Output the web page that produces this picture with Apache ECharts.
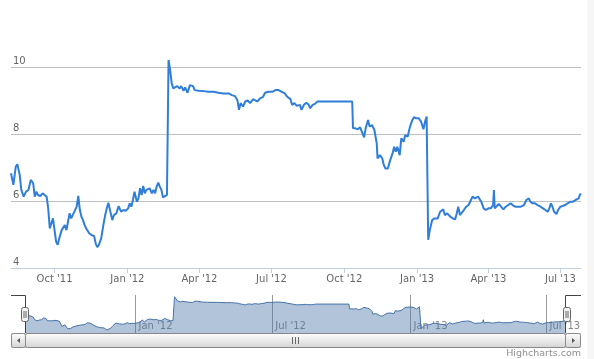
<!DOCTYPE html>
<html><head><meta charset="utf-8">
<script src="https://cdn.jsdelivr.net/npm/echarts@6/dist/echarts.min.js"></script>
<style>html,body{margin:0;padding:0;background:#fff}#c{width:594px;height:359px}</style>
</head><body><div id="c"></div>
<script>
const dates = [
'2011-08-07','2011-08-10','2011-08-13','2011-08-15','2011-08-18','2011-08-20','2011-08-23','2011-08-26','2011-08-29',
'2011-09-01','2011-09-04','2011-09-06','2011-09-08','2011-09-10','2011-09-13','2011-09-16','2011-09-18','2011-09-21','2011-09-23','2011-09-25','2011-09-27','2011-09-29',
'2011-10-01','2011-10-03','2011-10-05','2011-10-07','2011-10-10','2011-10-12','2011-10-14','2011-10-16','2011-10-18','2011-10-20','2011-10-22','2011-10-24','2011-10-26','2011-10-29','2011-10-31',
'2011-11-02','2011-11-04','2011-11-06','2011-11-08','2011-11-10','2011-11-12','2011-11-14','2011-11-17','2011-11-20','2011-11-22','2011-11-24','2011-11-26','2011-11-29',
'2011-12-02','2011-12-04','2011-12-06','2011-12-08','2011-12-11','2011-12-13','2011-12-15','2011-12-18','2011-12-21','2011-12-24','2011-12-27','2011-12-30',
'2012-01-02','2012-01-04','2012-01-06','2012-01-08','2012-01-10','2012-01-13','2012-01-15','2012-01-17','2012-01-19','2012-01-21','2012-01-23','2012-01-25','2012-01-27','2012-01-29',
'2012-02-01','2012-02-03','2012-02-05','2012-02-07','2012-02-09','2012-02-11','2012-02-13','2012-02-15','2012-02-17','2012-02-20','2012-02-22','2012-02-24','2012-02-26','2012-02-28',
'2012-03-01','2012-03-04','2012-03-07','2012-03-09','2012-03-12','2012-03-14','2012-03-17','2012-03-20','2012-03-24','2012-03-26','2012-03-31',
'2012-04-06','2012-04-12','2012-04-19','2012-04-25',
'2012-05-01','2012-05-08','2012-05-12','2012-05-16','2012-05-19','2012-05-21','2012-05-23','2012-05-26','2012-05-29',
'2012-06-01','2012-06-04','2012-06-08','2012-06-10','2012-06-13','2012-06-17','2012-06-20','2012-06-23','2012-06-27',
'2012-07-02','2012-07-06','2012-07-10','2012-07-14','2012-07-18','2012-07-21','2012-07-25','2012-07-27','2012-07-30',
'2012-08-02','2012-08-06','2012-08-08','2012-08-11','2012-08-14','2012-08-17','2012-08-19','2012-08-22','2012-08-25','2012-08-28',
'2012-10-11','2012-10-12','2012-10-15','2012-10-18','2012-10-21','2012-10-24','2012-10-26','2012-10-28','2012-10-31',
'2012-11-02','2012-11-05','2012-11-08','2012-11-11','2012-11-12','2012-11-15','2012-11-18','2012-11-20','2012-11-22','2012-11-25','2012-11-28',
'2012-12-01','2012-12-03','2012-12-05','2012-12-07','2012-12-10','2012-12-12','2012-12-15','2012-12-17','2012-12-20','2012-12-23','2012-12-26','2012-12-28','2012-12-31',
'2013-01-03','2013-01-06','2013-01-09','2013-01-11','2013-01-13','2013-01-15','2013-01-17','2013-01-20','2013-01-23','2013-01-27','2013-01-30',
'2013-02-01','2013-02-03','2013-02-05','2013-02-08','2013-02-12','2013-02-15','2013-02-18','2013-02-20','2013-02-22','2013-02-24','2013-02-26',
'2013-03-01','2013-03-04','2013-03-07','2013-03-10','2013-03-12','2013-03-15','2013-03-17','2013-03-19','2013-03-23','2013-03-26','2013-03-29',
'2013-04-01','2013-04-04','2013-04-07','2013-04-08','2013-04-09','2013-04-11','2013-04-14','2013-04-17','2013-04-20','2013-04-23','2013-04-26','2013-04-29',
'2013-05-02','2013-05-05','2013-05-08','2013-05-12','2013-05-16','2013-05-19','2013-05-22','2013-05-24','2013-05-27','2013-05-30',
'2013-06-02','2013-06-06','2013-06-09','2013-06-12','2013-06-15','2013-06-17','2013-06-19','2013-06-21','2013-06-23','2013-06-26','2013-06-28',
'2013-07-01','2013-07-04','2013-07-07','2013-07-10','2013-07-14','2013-07-17','2013-07-20','2013-07-22','2013-07-24','2013-07-26','2013-07-27'
];
const prices = [
6.83,6.48,7.02,7.10,6.78,6.33,6.13,6.28,6.33,
6.63,6.53,6.13,6.28,6.18,6.15,6.23,6.28,6.13,5.78,5.18,5.23,5.48,
5.43,4.79,4.69,4.89,5.13,5.18,5.28,5.13,5.38,5.63,5.48,5.58,5.53,5.83,6.15,
5.73,5.53,5.43,5.28,5.18,5.13,5.03,4.98,4.96,4.73,4.62,4.69,4.89,
5.33,5.58,5.78,5.95,5.63,5.43,5.58,5.63,5.85,5.68,5.73,5.71,
5.78,5.93,5.83,6.03,6.28,5.98,6.08,6.38,6.18,6.45,6.23,6.33,6.28,6.38,
6.23,6.33,6.23,6.43,6.55,6.43,6.33,6.11,6.15,6.18,10.21,9.91,9.51,9.36,
9.33,9.43,9.36,9.43,9.29,9.39,9.23,9.46,9.43,9.31,9.29,
9.28,9.26,9.26,9.23,
9.21,9.21,9.16,9.13,9.01,8.72,8.92,8.82,8.97,
9.00,8.92,9.04,9.04,8.97,9.07,9.10,9.23,9.26,
9.26,9.31,9.31,9.26,9.21,9.11,9.04,8.87,8.92,
8.84,8.87,8.72,8.87,8.93,8.87,8.77,8.87,8.90,8.97,
8.97,8.17,8.17,8.14,8.20,8.02,7.90,8.17,8.42,
8.22,8.27,8.12,7.72,7.27,7.37,7.27,7.07,6.97,6.97,7.22,
7.42,7.62,7.47,7.62,7.37,7.87,7.77,7.97,7.92,8.22,8.42,8.50,8.47,
8.47,8.37,8.14,8.37,8.52,4.84,5.13,5.43,5.48,5.48,5.68,
5.63,5.75,5.58,5.63,5.53,5.48,5.45,5.63,5.83,5.58,5.63,
5.73,5.83,5.88,6.03,6.13,6.08,6.03,6.13,5.98,5.78,5.73,
5.78,5.78,5.88,6.33,5.78,5.83,5.91,5.83,5.75,5.83,5.88,5.93,
5.87,5.83,5.83,5.83,5.88,6.03,6.08,5.98,5.93,5.93,
5.88,5.83,5.78,5.73,5.68,5.78,5.93,5.83,5.68,5.61,5.73,
5.83,5.85,5.88,5.93,5.98,5.98,6.03,5.98,6.08,6.21,6.18
];
const mainTickDates = ['2011-10-01','2012-01-01','2012-04-01','2012-07-01','2012-10-01','2013-01-01','2013-04-01','2013-07-01'];
const navTickDates = ['2012-01-01','2012-07-01','2013-01-01','2013-07-01'];
const monthNames = ['Jan','Feb','Mar','Apr','May','Jun','Jul','Aug','Sep','Oct','Nov','Dec'];

const ts = s => new Date(s + 'T00:00:00').getTime();
const seriesData = dates.map((d, i) => [ts(d), prices[i]]);
const xMin = ts(dates[0]), xMax = ts(dates[dates.length - 1]);
const fmt = v => { const d = new Date(v); return monthNames[d.getMonth()] + " '" + String(d.getFullYear()).slice(2); };
const FONT = '"DejaVu Sans", Verdana, Arial, sans-serif';

const chart = echarts.init(document.getElementById('c'), null, {renderer: 'canvas'});
const grad = (a, b) => new echarts.graphic.LinearGradient(0, 0, 0, 1, [{offset: 0, color: a}, {offset: 1, color: b}]);

chart.setOption({
  animation: false,
  backgroundColor: '#fff',
  grid: [
    {left: 11, right: 13, top: 67, height: 201},
    {left: 25, right: 28, top: 295, height: 38}
  ],
  xAxis: [
    {
      gridIndex: 0, type: 'value', min: xMin, max: xMax, scale: true,
      axisLine: {lineStyle: {color: '#C0D0E0'}},
      axisTick: {length: 5, lineStyle: {color: '#C0D0E0'}, customValues: mainTickDates.map(ts)},
      axisLabel: {customValues: mainTickDates.map(ts), formatter: fmt, color: '#666', fontSize: 10, fontFamily: FONT, margin: 6},
      splitLine: {show: false}
    },
    {
      gridIndex: 1, type: 'value', min: xMin, max: xMax, scale: true,
      axisLine: {show: false},
      axisTick: {inside: true, length: 38, lineStyle: {color: '#999'}, customValues: navTickDates.map(ts)},
      axisLabel: {inside: true, customValues: navTickDates.map(ts), formatter: fmt, color: '#888', fontSize: 10, fontFamily: FONT,
        align: 'left', verticalAlign: 'bottom', margin: 2, padding: [0, 0, 0, 3]},
      splitLine: {show: false}
    }
  ],
  yAxis: [
    {
      gridIndex: 0, type: 'value', min: 4, max: 10, interval: 2, position: 'left',
      axisLine: {show: false}, axisTick: {show: false},
      splitLine: {lineStyle: {color: '#C0C0C0', width: 1}},
      axisLabel: {inside: true, margin: 2, verticalAlign: 'bottom', color: '#666', fontSize: 10, fontFamily: FONT, padding: [0, 0, 1, 0]}
    },
    {gridIndex: 1, type: 'value', min: 4.1, max: 10.5, show: false, splitLine: {show: false}}
  ],
  series: [
    {
      type: 'line', xAxisIndex: 0, yAxisIndex: 0, data: seriesData, showSymbol: false, clip: false,
      lineStyle: {color: '#2f7ed8', width: 2}, itemStyle: {color: '#2f7ed8'}, z: 3
    },
    {
      type: 'line', xAxisIndex: 1, yAxisIndex: 1, data: seriesData, showSymbol: false, silent: true,
      lineStyle: {color: '#4572A7', width: 1}, areaStyle: {color: '#4572A7', opacity: 0.42, origin: 'start'}
    }
  ],
  graphic: [
    {type: 'rect', shape: {x: 587, y: 0, width: 7, height: 359}, style: {fill: '#f6f6f6'}, silent: true},
    {type: 'polyline', shape: {points: [[11, 295.5], [25.5, 295.5], [25.5, 333]]}, style: {stroke: '#444', lineWidth: 1, fill: null}, z: 10},
    {type: 'polyline', shape: {points: [[565.5, 333], [565.5, 295.5], [581, 295.5]]}, style: {stroke: '#444', lineWidth: 1, fill: null}, z: 10},
    {type: 'rect', shape: {x: 21.5, y: 307.5, width: 7, height: 14, r: 2}, style: {fill: '#f2f2f2', stroke: '#666', lineWidth: 1}, z: 11},
    {type: 'line', shape: {x1: 24, y1: 311, x2: 24, y2: 318}, style: {stroke: '#666', lineWidth: 1}, z: 12},
    {type: 'line', shape: {x1: 26, y1: 311, x2: 26, y2: 318}, style: {stroke: '#666', lineWidth: 1}, z: 12},
    {type: 'rect', shape: {x: 563.5, y: 307.5, width: 7, height: 14, r: 2}, style: {fill: '#f2f2f2', stroke: '#666', lineWidth: 1}, z: 11},
    {type: 'line', shape: {x1: 566, y1: 311, x2: 566, y2: 318}, style: {stroke: '#666', lineWidth: 1}, z: 12},
    {type: 'line', shape: {x1: 568, y1: 311, x2: 568, y2: 318}, style: {stroke: '#666', lineWidth: 1}, z: 12},
    {type: 'rect', shape: {x: 11.5, y: 333.5, width: 569, height: 14}, style: {fill: grad('#eeeeee', '#ffffff'), stroke: '#ccc', lineWidth: 1}, z: 10},
    {type: 'rect', shape: {x: 25.5, y: 333.5, width: 540, height: 14, r: 2}, style: {fill: grad('#ffffff', '#d4d4d4'), stroke: '#888', lineWidth: 1}, z: 11},
    {type: 'rect', shape: {x: 11.5, y: 333.5, width: 14, height: 14, r: 2}, style: {fill: grad('#ffffff', '#d4d4d4'), stroke: '#888', lineWidth: 1}, z: 11},
    {type: 'rect', shape: {x: 565.5, y: 333.5, width: 15, height: 14, r: 2}, style: {fill: grad('#ffffff', '#d4d4d4'), stroke: '#888', lineWidth: 1}, z: 11},
    {type: 'polygon', shape: {points: [[17, 340.5], [20, 338], [20, 343]]}, style: {fill: '#555'}, z: 12},
    {type: 'polygon', shape: {points: [[575, 340.5], [572, 338], [572, 343]]}, style: {fill: '#555'}, z: 12},
    {type: 'line', shape: {x1: 292.5, y1: 337, x2: 292.5, y2: 344}, style: {stroke: '#666', lineWidth: 1}, z: 12},
    {type: 'line', shape: {x1: 295.5, y1: 337, x2: 295.5, y2: 344}, style: {stroke: '#666', lineWidth: 1}, z: 12},
    {type: 'line', shape: {x1: 298.5, y1: 337, x2: 298.5, y2: 344}, style: {stroke: '#666', lineWidth: 1}, z: 12},
    {type: 'text', style: {x: 581, y: 354, text: 'Highcharts.com', fill: '#909090', font: '9.5px "DejaVu Sans", Verdana, sans-serif', textAlign: 'right', textVerticalAlign: 'middle'}, z: 12}
  ]
});
</script>
</body></html>
